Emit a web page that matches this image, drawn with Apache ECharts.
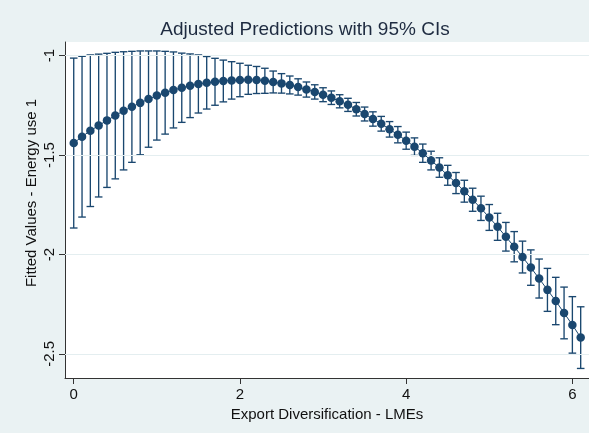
<!DOCTYPE html>
<html><head><meta charset="utf-8">
<script src="https://cdn.jsdelivr.net/npm/echarts@6/dist/echarts.min.js"></script>
<style>html,body{margin:0;padding:0;background:#EAF2F3}#c{width:589px;height:433px}</style>
</head><body><div id="c"></div>
<script>
const xValues = [0.0,0.1,0.2,0.3,0.4,0.5,0.6,0.7,0.8,0.9,
  1.0,1.1,1.2,1.3,1.4,1.5,1.6,1.7,1.8,1.9,
  2.0,2.1,2.2,2.3,2.4,2.5,2.6,2.7,2.8,2.9,
  3.0,3.1,3.2,3.3,3.4,3.5,3.6,3.7,3.8,3.9,
  4.0,4.1,4.2,4.3,4.4,4.5,4.6,4.7,4.8,4.9,
  5.0,5.1,5.2,5.3,5.4,5.5,5.6,5.7,5.8,5.9,
  6.0,6.1];
const fitted = [-1.440,-1.408,-1.378,-1.352,-1.326,-1.302,-1.278,-1.258,-1.238,-1.219,
  -1.201,-1.187,-1.173,-1.162,-1.152,-1.143,-1.137,-1.132,-1.128,-1.125,
  -1.123,-1.122,-1.123,-1.127,-1.133,-1.140,-1.148,-1.158,-1.171,-1.183,
  -1.197,-1.212,-1.230,-1.248,-1.270,-1.294,-1.319,-1.343,-1.371,-1.398,
  -1.428,-1.458,-1.491,-1.528,-1.563,-1.602,-1.641,-1.682,-1.725,-1.768,
  -1.814,-1.861,-1.911,-1.961,-2.013,-2.066,-2.121,-2.178,-2.234,-2.294,
  -2.354,-2.418];
const ciLower = [-1.867,-1.812,-1.759,-1.711,-1.663,-1.620,-1.575,-1.537,-1.499,-1.461,
  -1.425,-1.395,-1.364,-1.336,-1.312,-1.289,-1.269,-1.250,-1.233,-1.219,
  -1.207,-1.195,-1.191,-1.190,-1.188,-1.189,-1.193,-1.199,-1.209,-1.219,
  -1.232,-1.246,-1.263,-1.281,-1.304,-1.329,-1.355,-1.380,-1.410,-1.439,
  -1.471,-1.502,-1.537,-1.575,-1.612,-1.652,-1.694,-1.737,-1.783,-1.829,
  -1.879,-1.929,-1.983,-2.037,-2.093,-2.155,-2.219,-2.286,-2.353,-2.424,
  -2.496,-2.573];
const ciUpper = [-1.013,-1.004,-0.997,-0.993,-0.989,-0.984,-0.981,-0.979,-0.977,-0.977,
  -0.977,-0.979,-0.982,-0.988,-0.992,-0.997,-1.005,-1.014,-1.023,-1.031,
  -1.039,-1.049,-1.055,-1.064,-1.078,-1.091,-1.103,-1.117,-1.133,-1.147,
  -1.162,-1.178,-1.197,-1.215,-1.236,-1.259,-1.283,-1.306,-1.332,-1.357,
  -1.385,-1.414,-1.445,-1.481,-1.514,-1.552,-1.588,-1.627,-1.667,-1.707,
  -1.749,-1.793,-1.839,-1.885,-1.933,-1.977,-2.023,-2.070,-2.115,-2.164,
  -2.212,-2.263];
const xTicks = [0, 2, 4, 6];
const yTicks = [-1, -1.5, -2, -2.5];
const titleText = 'Adjusted Predictions with 95% CIs';
const xName = 'Export Diversification - LMEs';
const yName = 'Fitted Values - Energy use 1';

const FONT = '"Liberation Sans", Arial, sans-serif';
const NAVY = '#1A476F';
const chart = echarts.init(document.getElementById('c'), null, {renderer: 'canvas'});

const pointData = xValues.map((x, i) => [x, fitted[i]]);
const ciData = xValues.map((x, i) => [x, ciLower[i], ciUpper[i]]);

chart.setOption({
  animation: false,
  backgroundColor: '#EAF2F3',
  graphic: [{
    type: 'text', x: 305, y: 30,
    style: {text: titleText, textAlign: 'center', textVerticalAlign: 'middle',
      font: '19px ' + FONT, fill: '#1E2B40'}
  }, {
    type: 'text', x: 32, y: 193, rotation: Math.PI / 2,
    style: {text: yName, textAlign: 'center', textVerticalAlign: 'middle',
      font: '15px ' + FONT, fill: '#111'}
  }],
  grid: {left: 65, right: 0, top: 42, bottom: 55, show: true,
    backgroundColor: '#FFFFFF', borderWidth: 0},
  xAxis: {
    type: 'value', min: -0.105, max: 6.2,
    name: xName, nameLocation: 'middle', nameGap: 25,
    nameTextStyle: {fontFamily: FONT, fontSize: 15, color: '#111'},
    axisLine: {show: true, onZero: false, lineStyle: {color: '#333', width: 1}},
    axisTick: {show: true, length: 6, customValues: xTicks, lineStyle: {color: '#333'}},
    axisLabel: {customValues: xTicks, fontFamily: FONT, fontSize: 15, color: '#111', margin: 9},
    splitLine: {show: false}
  },
  yAxis: {
    type: 'value', min: -2.621, max: -0.932,
    axisLine: {show: true, onZero: false, lineStyle: {color: '#333', width: 1}},
    axisTick: {show: true, length: 6, customValues: yTicks, lineStyle: {color: '#333'}},
    axisLabel: {customValues: yTicks, rotate: 90, fontFamily: FONT, fontSize: 15, color: '#111', margin: 8},
    splitLine: {show: false}
  },
  series: [{
    type: 'line', data: [], silent: true,
    markLine: {symbol: 'none', silent: true, label: {show: false},
      lineStyle: {color: '#E4EEF0', width: 1, type: 'solid'},
      data: yTicks.map(v => ({yAxis: v}))}
  }, {
    type: 'custom', data: ciData, z: 3,
    renderItem: function (params, api) {
      const x = api.value(0);
      const lo = api.coord([x, api.value(1)]);
      const hi = api.coord([x, api.value(2)]);
      const w = 3.8;
      const st = {stroke: NAVY, lineWidth: 1.35};
      return {type: 'group', children: [
        {type: 'line', shape: {x1: lo[0], y1: lo[1], x2: hi[0], y2: hi[1]}, style: st},
        {type: 'line', shape: {x1: lo[0] - w, y1: lo[1], x2: lo[0] + w, y2: lo[1]}, style: st},
        {type: 'line', shape: {x1: hi[0] - w, y1: hi[1], x2: hi[0] + w, y2: hi[1]}, style: st}
      ]};
    }
  }, {
    type: 'line', data: pointData, z: 5,
    symbol: 'circle', symbolSize: 8.5, showSymbol: true,
    itemStyle: {color: NAVY, borderWidth: 0},
    lineStyle: {color: NAVY, width: 1}
  }]
});
</script>
</body></html>
